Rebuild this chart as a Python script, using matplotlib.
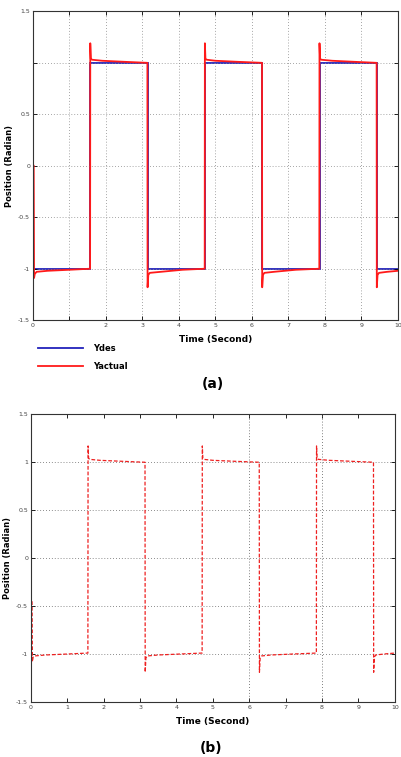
import matplotlib.pyplot as plt

# desired square wave: switch times and levels
switch_t = [0, 1.57, 3.14, 4.71, 6.28, 7.85, 9.42, 10]
des_levels = [-1, 1, -1, 1, -1, 1, -1]

# actual response, panel (a)
act_a_t = [0.02, 0.03, 0.05, 0.1, 0.4, 1.0, 1.565,
           1.57, 1.585, 1.62, 1.9, 2.5, 3.135,
           3.14, 3.16, 3.2, 3.5, 4.1, 4.705,
           4.71, 4.725, 4.76, 5.0, 5.6, 6.275,
           6.28, 6.30, 6.34, 6.6, 7.2, 7.845,
           7.85, 7.865, 7.90, 8.2, 8.8, 9.415,
           9.42, 9.44, 9.48, 9.7, 10.0]
act_a_y = [0.0, -1.09, -1.05, -1.03, -1.02, -1.01, -1.0,
           1.19, 1.04, 1.03, 1.02, 1.01, 1.0,
           -1.18, -1.06, -1.04, -1.03, -1.01, -1.0,
           1.19, 1.04, 1.03, 1.02, 1.01, 1.0,
           -1.18, -1.06, -1.04, -1.03, -1.01, -1.0,
           1.19, 1.04, 1.03, 1.02, 1.01, 1.0,
           -1.18, -1.06, -1.04, -1.03, -1.02]

# actual response, panel (b)
act_b_t = [0.03, 0.04, 0.06, 0.1, 0.4, 1.0, 1.565,
           1.57, 1.585, 1.62, 1.9, 2.5, 3.135,
           3.14, 3.16, 3.2, 3.5, 4.1, 4.705,
           4.71, 4.725, 4.76, 5.0, 5.6, 6.275,
           6.28, 6.30, 6.34, 6.6, 7.2, 7.845,
           7.85, 7.865, 7.90, 8.2, 8.8, 9.415,
           9.42, 9.44, 9.48, 9.7, 10.0]
act_b_y = [-0.45, -1.08, -1.03, -1.02, -1.01, -1.0, -0.99,
           1.17, 1.04, 1.03, 1.02, 1.01, 1.0,
           -1.19, -1.04, -1.02, -1.01, -1.0, -0.99,
           1.17, 1.04, 1.03, 1.02, 1.01, 1.0,
           -1.19, -1.04, -1.02, -1.01, -1.0, -0.99,
           1.17, 1.04, 1.03, 1.02, 1.01, 1.0,
           -1.19, -1.03, -1.01, -1.0, -0.99]

x_ticks = list(range(0, 11))
x_labels_a = ["0", "", "2", "3", "4", "5", "6", "7", "8", "9", "10"]
x_labels_b = ["0", "1", "2", "3", "4", "5", "6", "7", "8", "9", "10"]
y_ticks = [-1.5, -1, -0.5, 0, 0.5, 1, 1.5]
y_labels_a = ["-1.5", "-1", "-0.5", "0", "0.5", "", "1.5"]
y_labels_b = ["-1.5", "-1", "-0.5", "0", "0.5", "1", "1.5"]

plt.rcParams['font.family'] = ['DejaVu Sans']
fig = plt.figure(figsize=(4.02, 7.57), dpi=100)


def style_axes(ax, xlabels, ylabels):
    ax.set_xlim(0, 10)
    ax.set_ylim(-1.5, 1.5)
    ax.set_xticks(x_ticks)
    ax.set_xticklabels(xlabels)
    ax.set_yticks(y_ticks)
    ax.set_yticklabels(ylabels)
    ax.tick_params(direction="in", top=True, right=True, length=3,
                   width=0.6, labelsize=4.5, labelcolor="#444444", pad=2)
    for s in ax.spines.values():
        s.set_linewidth(0.8)
        s.set_color("#333333")
    ax.set_xlabel("Time (Second)", fontsize=6.5, fontweight="bold", labelpad=5)
    ax.set_ylabel("Position (Radian)", fontsize=6, fontweight="bold", labelpad=3)


# panel (a)
ax1 = fig.add_axes([0.082, 0.577, 0.908, 0.408])
ax1.grid(True, linestyle=(0, (1, 2.5)), color="#888888", linewidth=0.6)
ax1.stairs(des_levels, switch_t, color="#2222bb", linewidth=1.3, baseline=None)
ax1.plot(act_a_t, act_a_y, color="#ff1a1a", linewidth=1.3)
style_axes(ax1, x_labels_a, y_labels_a)

# legend drawn under panel (a)
ax1.plot([], [], color="#2222bb", linewidth=1.3, label="Ydes")
ax1.plot([], [], color="#ff1a1a", linewidth=1.3, label="Yactual")
h, l = ax1.get_legend_handles_labels()
leg = fig.legend(h[-2:], l[-2:], loc="upper left", bbox_to_anchor=(0.075, 0.555),
                 frameon=False, handlelength=5.5, handletextpad=1.2,
                 labelspacing=1.0, prop={"weight": "bold", "size": 6})

fig.text(0.53, 0.493, "(a)", ha="center", va="center", fontsize=10, fontweight="bold")

# panel (b)
ax2 = fig.add_axes([0.077, 0.0727, 0.905, 0.380])
ax2.grid(True, axis="y", linestyle=(0, (1, 2.5)), color="#666666", linewidth=0.6)
for xv in [6, 8]:
    ax2.axvline(xv, linestyle=(0, (1, 2.5)), color="#555555", linewidth=0.6)
ax2.plot(act_b_t, act_b_y, color="#ee2020", linewidth=0.9, linestyle=(0, (3, 1.5)))
style_axes(ax2, x_labels_b, y_labels_b)

fig.text(0.525, 0.012, "(b)", ha="center", va="center", fontsize=10, fontweight="bold")

fig.savefig("out.png", dpi=100)
